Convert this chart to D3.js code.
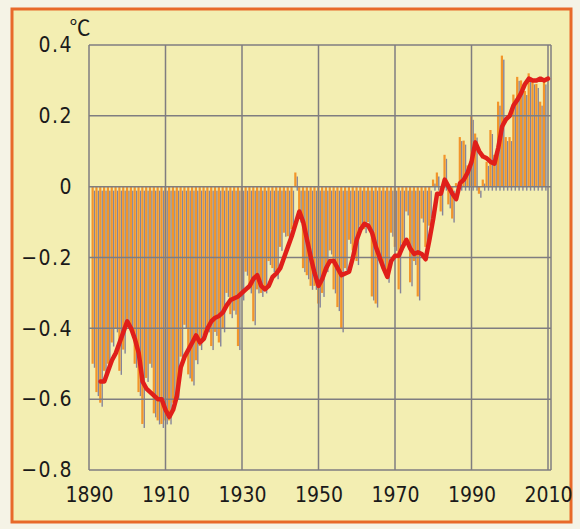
<!DOCTYPE html>
<html>
<head>
<meta charset="utf-8">
<script src="https://cdn.jsdelivr.net/npm/d3@7"></script>
<style>
  body { margin: 0; background: #f5f3e6; }
  text { font-family: "DejaVu Sans Condensed", "Liberation Sans Narrow", sans-serif; }
</style>
</head>
<body>
<div id="chart"></div>
<script>
// annual anomaly bars, 1891-2009 (degC)
var years = d3.range(1891, 2010);
var anomaly = [
  -0.50, -0.58, -0.61, -0.52, -0.50, -0.44, -0.40, -0.52, -0.46, -0.38,  // 1891-1900
  -0.40, -0.50, -0.58, -0.67, -0.54, -0.50, -0.64, -0.66, -0.67, -0.66,  // 1901-1910
  -0.66, -0.61, -0.59, -0.48, -0.39, -0.53, -0.55, -0.49, -0.45, -0.42,  // 1911-1920
  -0.40, -0.45, -0.41, -0.44, -0.40, -0.30, -0.36, -0.35, -0.45, -0.31,  // 1921-1930
  -0.24, -0.29, -0.38, -0.29, -0.30, -0.29, -0.21, -0.23, -0.25, -0.17,  // 1931-1940
  -0.13, -0.14, -0.12,  0.04, -0.09, -0.23, -0.25, -0.28, -0.28, -0.33,  // 1941-1950
  -0.30, -0.23, -0.18, -0.29, -0.34, -0.40, -0.23, -0.15, -0.18, -0.21,  // 1951-1960
  -0.11, -0.12, -0.10, -0.31, -0.33, -0.21, -0.23, -0.26, -0.13, -0.17,  // 1961-1970
  -0.29, -0.16, -0.07, -0.27, -0.21, -0.31, -0.09, -0.17, -0.11,  0.02,  // 1971-1980
   0.04, -0.07,  0.09, -0.05, -0.09,  0.01,  0.14,  0.13,  0.06,  0.20,  // 1981-1990
   0.15, -0.02,  0.02,  0.07,  0.16,  0.09,  0.24,  0.37,  0.14,  0.14,  // 1991-2000
   0.26,  0.31,  0.30,  0.27,  0.32,  0.30,  0.29,  0.24,  0.30          // 2001-2009
];

// 5-year running mean (red line), 1893-2010
var meanYears = d3.range(1893, 2011);
var runningMean = [
  -0.55, -0.55, -0.52, -0.49, -0.47, -0.44, -0.41, -0.38,                // 1893-1900
  -0.40, -0.43, -0.47, -0.55, -0.57, -0.58, -0.59, -0.60, -0.60, -0.63,  // 1901-1910
  -0.65, -0.63, -0.59, -0.51, -0.48, -0.46, -0.44, -0.42, -0.44, -0.43,  // 1911-1920
  -0.40, -0.38, -0.37, -0.365, -0.355, -0.335, -0.32, -0.315, -0.31, -0.30, // 1921-1930
  -0.29, -0.28, -0.26, -0.25, -0.28, -0.29, -0.28, -0.255, -0.245, -0.23, // 1931-1940
  -0.20, -0.17, -0.14, -0.105, -0.07, -0.10, -0.15, -0.20, -0.245, -0.28, // 1941-1950
  -0.26, -0.23, -0.21, -0.21, -0.23, -0.25, -0.245, -0.24, -0.20, -0.15, // 1951-1960
  -0.12, -0.105, -0.11, -0.13, -0.17, -0.20, -0.23, -0.255, -0.21, -0.195, // 1961-1970
  -0.195, -0.17, -0.15, -0.175, -0.19, -0.185, -0.19, -0.205, -0.15, -0.09, // 1971-1980
  -0.02, -0.02, 0.02, 0.00, -0.02, -0.035, 0.01, 0.02, 0.04, 0.07,       // 1981-1990
  0.125, 0.10, 0.085, 0.08, 0.07, 0.065, 0.11, 0.17, 0.19, 0.20,         // 1991-2000
  0.23, 0.245, 0.265, 0.29, 0.305, 0.30, 0.30, 0.305, 0.30, 0.305        // 2001-2010
];

var yTicks = [-0.8, -0.6, -0.4, -0.2, 0, 0.2, 0.4];
var xTicks = [1890, 1910, 1930, 1950, 1970, 1990, 2010];

function init() {
    var w = 580;
    var h = 529;

    var xScale = d3.scaleLinear()
                   .domain([1890, 2010])
                   .range([89, 548]);

    var yScale = d3.scaleLinear()
                   .domain([-0.8, 0.4])
                   .range([470, 45]);

    var svg = d3.select("#chart")
                .append("svg")
                .attr("width", w)
                .attr("height", h);

    // panel with orange border
    svg.append("rect")
       .attr("x", 12).attr("y", 9)
       .attr("width", 559).attr("height", 513)
       .attr("fill", "#f3eeb2")
       .attr("stroke", "#e8692a")
       .attr("stroke-width", 3);

    // bars: grey shadow first, then orange
    var bars = svg.append("g");
    bars.selectAll("rect.shadow")
        .data(anomaly)
        .enter()
        .append("rect")
        .attr("class", "shadow")
        .attr("x", function(d, i) { return xScale(years[i]) + 1.0; })
        .attr("y", function(d) { return Math.min(yScale(d), yScale(0)) + 4; })
        .attr("width", 1.4)
        .attr("height", function(d) { return Math.abs(yScale(d) - yScale(0)); })
        .attr("fill", "#85849a");

    bars.selectAll("rect.bar")
        .data(anomaly)
        .enter()
        .append("rect")
        .attr("class", "bar")
        .attr("x", function(d, i) { return xScale(years[i]) - 1.3; })
        .attr("y", function(d) { return Math.min(yScale(d), yScale(0)); })
        .attr("width", 2.2)
        .attr("height", function(d) { return Math.abs(yScale(d) - yScale(0)); })
        .attr("fill", "#f2952a");

    // grid on top of bars
    var grid = svg.append("g")
                  .attr("stroke", "#7f7d80")
                  .attr("stroke-width", 1.5)
                  .attr("fill", "none");

    grid.selectAll("line.h")
        .data(yTicks)
        .enter()
        .append("line")
        .attr("x1", xScale(1890)).attr("x2", xScale(2010) + 3)
        .attr("y1", function(d) { return yScale(d); })
        .attr("y2", function(d) { return yScale(d); });

    grid.selectAll("line.v")
        .data(xTicks)
        .enter()
        .append("line")
        .attr("x1", function(d) { return xScale(d); })
        .attr("x2", function(d) { return xScale(d); })
        .attr("y1", yScale(0.4)).attr("y2", yScale(-0.8));

    grid.append("line")
        .attr("x1", xScale(2010) + 3).attr("x2", xScale(2010) + 3)
        .attr("y1", yScale(0.4)).attr("y2", yScale(-0.8));

    // red running mean
    var line = d3.line()
                 .x(function(d, i) { return xScale(meanYears[i]); })
                 .y(function(d) { return yScale(d); });

    svg.append("path")
       .datum(runningMean)
       .attr("d", line)
       .attr("fill", "none")
       .attr("stroke", "#e01f1a")
       .attr("stroke-width", 4.5)
       .attr("stroke-linejoin", "round")
       .attr("stroke-linecap", "round");

    // axes
    var yAxis = d3.axisLeft(yScale)
                  .tickValues(yTicks)
                  .tickSize(0)
                  .tickPadding(16)
                  .tickFormat(function(d) { return d === 0 ? "0" : d3.format(".1f")(d); });

    var gy = svg.append("g")
                .attr("transform", "translate(" + xScale(1890) + ",0)")
                .call(yAxis);
    gy.select(".domain").remove();
    gy.selectAll("text")
      .attr("font-size", 21)
      .attr("letter-spacing", 1.5)
      .attr("fill", "#1a1a1a");

    var xAxis = d3.axisBottom(xScale)
                  .tickValues(xTicks)
                  .tickSize(0)
                  .tickPadding(17)
                  .tickFormat(d3.format("d"));

    var gx = svg.append("g")
                .attr("transform", "translate(0," + yScale(-0.8) + ")")
                .call(xAxis);
    gx.select(".domain").remove();
    gx.selectAll("text")
      .attr("font-size", 21)
      .attr("fill", "#1a1a1a");

    // unit
    svg.append("text")
       .attr("x", 80)
       .attr("y", 35)
       .attr("text-anchor", "middle")
       .attr("font-size", 21)
       .attr("fill", "#1a1a1a")
       .style("font-family", "'Noto Sans CJK JP', sans-serif")
       .text("℃");
}

window.onload = init;
</script>
</body>
</html>
